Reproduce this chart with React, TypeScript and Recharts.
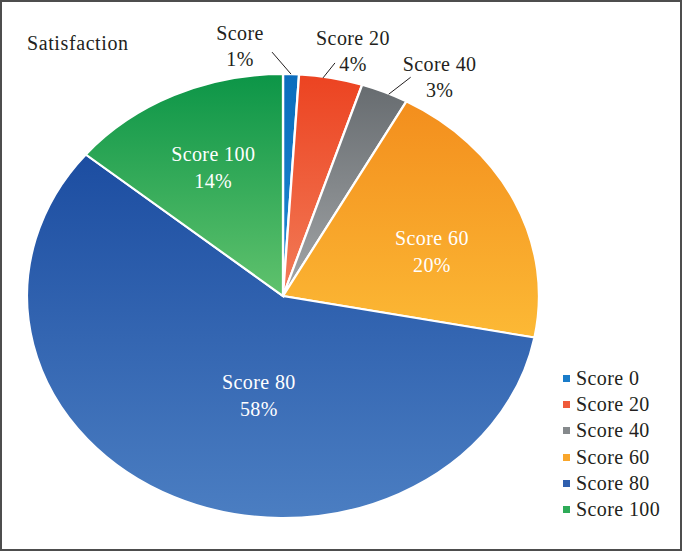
import { PieChart, Pie, Cell, Legend } from 'recharts';

const categories = ['Score 0', 'Score 20', 'Score 40', 'Score 60', 'Score 80', 'Score 100'];
const shares = [1, 4, 3, 20, 58, 14];
const sliceNames = ['Score', 'Score 20', 'Score 40', 'Score 60', 'Score 80', 'Score 100'];

const topColors = ['#0b6dbd', '#ec4321', '#676c70', '#f38e1d', '#1c4da1', '#0c9547'];
const bottomColors = ['#1f8ad2', '#f27c58', '#a3a6a8', '#fcb935', '#4b7ec2', '#60c26d'];
const legendColors = ['#1a7cc9', '#ef5a3a', '#85898c', '#f9a62b', '#2f5fae', '#2eab58'];

const data = categories.map((name, i) => ({ name, value: shares[i] }));

const FONT = '"Liberation Serif", "DejaVu Serif", serif';
const INK = '#231f20';
const CX = 283;
const CY = 296;
const RY = 222;
const SX = 256 / 222; // the figure is stretched sideways

// label placement per slice (inside: radius fraction + angle nudge, outside: leader + text offsets)
const labelPlace: any[] = [
  { start: [0, 0], line: [-19, -22], text: [-32, -19] },
  { start: [-8, 0], line: [12, -15], text: [18, -25] },
  { start: [4, 2], line: [22, -17], text: [29, -13] },
  { inside: true, r: 0.616, shift: 6 },
  { inside: true, r: 0.46, shift: -13.4 },
  { inside: true, r: 0.64, shift: 0 },
];

const textProps = {
  fontSize: 20,
  fontFamily: FONT,
  letterSpacing: 0.4,
  textAnchor: 'middle' as const,
  dominantBaseline: 'central' as const,
};

const renderLabel = (props: any) => {
  const { cx, cy, midAngle, outerRadius, index } = props;
  const place = labelPlace[index];
  const rad = Math.PI / 180;
  if (place.inside) {
    const a = (midAngle - place.shift) * rad;
    const r = outerRadius * place.r;
    const x = cx + SX * r * Math.cos(a);
    const y = cy - r * Math.sin(a);
    return (
      <g key={`lbl-${index}`}>
        <text x={x} y={y - 13.5} fill="#fff" {...textProps}>{sliceNames[index]}</text>
        <text x={x} y={y + 13.5} fill="#fff" {...textProps}>{`${shares[index]}%`}</text>
      </g>
    );
  }
  const a = midAngle * rad;
  const sx = cx + SX * outerRadius * Math.cos(a) + place.start[0];
  const sy = cy - outerRadius * Math.sin(a) + place.start[1];
  const lx = sx + place.line[0];
  const ly = sy + place.line[1];
  const tx = lx + place.text[0];
  const ty = ly + place.text[1];
  return (
    <g key={`lbl-${index}`}>
      <line x1={sx} y1={sy} x2={lx} y2={ly} stroke={INK} strokeWidth={1} />
      <text x={tx} y={ty} fill={INK} {...textProps}>{sliceNames[index]}</text>
      <text x={tx} y={ty + 26} fill={INK} {...textProps}>{`${shares[index]}%`}</text>
    </g>
  );
};

const renderLegend = () => (
  <ul style={{ listStyle: 'none', margin: 0, padding: 0, fontFamily: FONT, fontSize: 20, letterSpacing: 0.4, color: INK }}>
    {categories.map((name, i) => (
      <li key={`leg-${name}`} style={{ display: 'flex', alignItems: 'center', height: 26.3 }}>
        <span style={{ display: 'inline-block', width: 7, height: 7, background: legendColors[i], marginRight: 6 }} />
        <span>{name}</span>
      </li>
    ))}
  </ul>
);

export default function App() {
  return (
    <div style={{ position: 'absolute', left: 0, top: 0, width: 682, height: 551, background: '#fff' }}>
      <style>{`.recharts-pie .recharts-sector { transform-box: view-box; transform-origin: ${CX}px ${CY}px; transform: scaleX(${SX}); }`}</style>
      <svg width={0} height={0} style={{ position: 'absolute' }}>
        <defs>
          {categories.map((c, i) => (
            <linearGradient key={c} id={`grad-${i}`} x1="0" y1="0" x2="0" y2="1">
              <stop offset="0%" stopColor={topColors[i]} />
              <stop offset="100%" stopColor={bottomColors[i]} />
            </linearGradient>
          ))}
        </defs>
      </svg>
      <div style={{ position: 'absolute', left: 27, top: 31, fontFamily: FONT, fontSize: 20, letterSpacing: 0.6, color: INK, lineHeight: '24px' }}>
        Satisfaction
      </div>
      <PieChart width={682} height={551} margin={{ top: 0, right: 0, bottom: 0, left: 0 }}>
        <Pie
          data={data}
          dataKey="value"
          nameKey="name"
          cx={CX}
          cy={CY}
          outerRadius={RY}
          startAngle={90}
          endAngle={-270}
          stroke="#fff"
          strokeWidth={2}
          label={renderLabel}
          labelLine={false}
          isAnimationActive={false}
        >
          {data.map((entry, i) => (
            <Cell key={entry.name} fill={`url(#grad-${i})`} />
          ))}
        </Pie>
        <Legend
          layout="vertical"
          align="right"
          verticalAlign="top"
          content={renderLegend}
          wrapperStyle={{ position: 'absolute', left: 563, top: 365, width: 115 }}
        />
      </PieChart>
      <div style={{ position: 'absolute', left: 0, top: 0, width: 682, height: 551, border: '2px solid #4d4d4d', boxSizing: 'border-box', pointerEvents: 'none' }} />
    </div>
  );
}
